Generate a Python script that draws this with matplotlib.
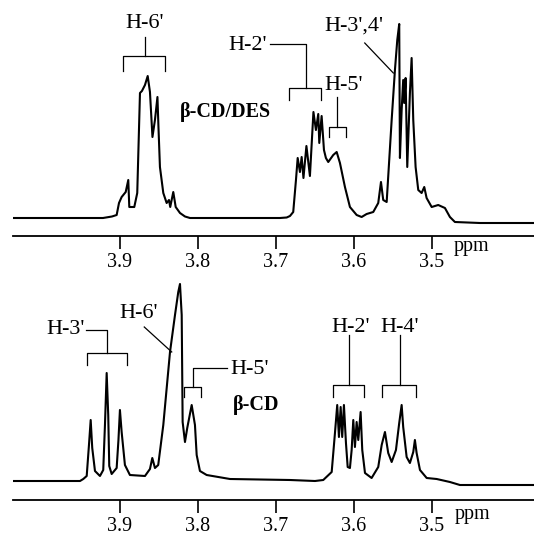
import matplotlib.pyplot as plt

plt.rcParams['font.family'] = ['Liberation Serif', 'DejaVu Serif']

# beta-CD/DES spectrum (ppm, intensity a.u.)
des_ppm = [4.037, 3.9216, 3.9101, 3.9041, 3.9011, 3.8977, 3.8925, 3.8892, 3.8879, 3.8815,
           3.8777, 3.8742, 3.8717, 3.8678, 3.8643, 3.8614, 3.8582, 3.855, 3.8518, 3.8505,
           3.8486, 3.8443, 3.84, 3.837, 3.8354, 3.8315, 3.8284, 3.8229, 3.8165, 3.8101,
           3.6947, 3.6861, 3.6819, 3.6777, 3.6742, 3.672, 3.6691, 3.6669, 3.6646, 3.6608,
           3.6563, 3.6518, 3.6486, 3.6456, 3.6443, 3.6413, 3.6383, 3.6358, 3.6328, 3.6264,
           3.622, 3.6178, 3.6114, 3.605, 3.5964, 3.59, 3.5836, 3.5751, 3.5687, 3.5652,
           3.5623, 3.5579, 3.5515, 3.5473, 3.5443, 3.5418, 3.5409, 3.5387, 3.5367, 3.5354,
           3.5336, 3.5315, 3.5281, 3.5259, 3.5238, 3.5208, 3.5174, 3.5131, 3.5097, 3.5067,
           3.5002, 3.4918, 3.4832, 3.4768, 3.4704, 3.4383, 3.3691]
des_int = [0, 0, 1.5, 3, 15, 21, 26, 38, 11, 11,
           25, 125, 127, 133, 142, 126, 81, 98, 121, 91,
           51, 25, 15, 18, 11, 26, 11, 5, 1.5, 0,
           0, 0.5, 2, 6, 38, 60, 46, 61, 40, 72,
           42, 106, 88, 104, 75, 102, 68, 60, 56, 63,
           66, 55, 31, 11, 3, 1, 4, 6, 15, 36,
           18, 16, 98, 148, 178, 194, 60, 108, 138, 115,
           140, 51, 125, 160, 98, 51, 28, 25, 31, 20,
           11, 13, 10, 1, -4, -5, -5]

# beta-CD spectrum (ppm, intensity a.u.)
cd_ppm = [4.037, 3.9511, 3.9469, 3.9425, 3.9396, 3.9374, 3.9354, 3.9319, 3.9255, 3.9213,
          3.9191, 3.9169, 3.9149, 3.9136, 3.9105, 3.9041, 3.9018, 3.8999, 3.8977, 3.8935,
          3.8871, 3.8678, 3.8614, 3.8584, 3.855, 3.8508, 3.8443, 3.8357, 3.8293, 3.8251,
          3.8229, 3.8207, 3.8195, 3.8165, 3.8136, 3.8079, 3.8037, 3.8015, 3.7973, 3.7887,
          3.7588, 3.6819, 3.6498, 3.6392, 3.6284, 3.6242, 3.6213, 3.6191, 3.6169, 3.6149,
          3.6127, 3.6101, 3.6079, 3.605, 3.6028, 3.6007, 3.5986, 3.5964, 3.5943, 3.5913,
          3.5892, 3.5857, 3.5772, 3.5687, 3.5643, 3.5601, 3.5559, 3.5515, 3.546, 3.5418,
          3.5387, 3.5367, 3.5323, 3.5281, 3.5238, 3.5217, 3.5195, 3.5152, 3.5066, 3.4938,
          3.4768, 3.464, 3.3691]
cd_int = [0, 0, 2, 5, 36, 61, 33, 10, 5, 11,
          56, 108, 66, 15, 7, 13, 41, 71, 49, 16,
          6, 5, 12, 23, 13, 16, 56, 129, 166, 189,
          197, 166, 59, 39, 53, 76, 56, 26, 10, 6,
          2, 1, 0, 1, 9, 48, 76, 44, 74, 44,
          76, 38, 14, 13, 31, 61, 34, 59, 41, 69,
          31, 8, 3, 14, 36, 49, 28, 19, 31, 58,
          76, 54, 24, 18, 29, 41, 28, 11, 3, 2,
          -1, -4, -4]

ticks = [3.9, 3.8, 3.7, 3.6, 3.5]
tick_labels = ['3.9', '3.8', '3.7', '3.6', '3.5']

# bracket labels: text, text x, text y, stem x, stem top, bracket lo, bracket hi, bracket y, tick end
des_brackets = [
    ("H-6'", 3.868, 194, 3.868, 181, 3.896, 3.842, 162, 147),
    ("H-5'", 3.613, 132, 3.621, 121, 3.632, 3.610, 91, 81),
]
cd_brackets = [
    ("H-2'", 3.604, 153, 3.6066, 146, 3.6264, 3.5867, 96, 84.5),
    ("H-4'", 3.5408, 153, 3.5408, 146, 3.5643, 3.5203, 96, 84.5),
]

fig = plt.figure(figsize=(5.34, 5.35), dpi=100)
ax1 = fig.add_axes([13 / 534, (535 - 236) / 535, 521 / 534, 236 / 535])
ax2 = fig.add_axes([13 / 534, (535 - 500) / 535, 521 / 534, 250 / 535])

lc = 'black'
fs = 16
for ax, x, y, lo in [(ax1, des_ppm, des_int, -18), (ax2, cd_ppm, cd_int, -19)]:
    ax.plot(x, y, color=lc, lw=1.5, solid_joinstyle='round')
    ax.set_xlim(4.037, 3.369)
    ax.set_ylim(lo, 218 if ax is ax1 else 231)
    for s in ['top', 'left', 'right']:
        ax.spines[s].set_visible(False)
    ax.spines['bottom'].set_linewidth(1.3)
    ax.set_yticks([])
    ax.set_xticks(ticks)
    ax.set_xticklabels(tick_labels)
    ax.tick_params(axis='x', direction='out', length=9, width=1.2, pad=3, labelsize=14.5)
    ax.patch.set_visible(False)


def bracket(ax, b):
    name, tx, ty, sx, stop, blo, bhi, by, bt = b
    ax.text(tx, ty, name, ha='center', va='center', fontsize=fs)
    ax.plot([sx, sx], [stop, by], color=lc, lw=0.9)
    ax.plot([blo, blo, bhi, bhi], [bt, by, by, bt], color=lc, lw=0.9)


for b in des_brackets:
    bracket(ax1, b)
for b in cd_brackets:
    bracket(ax2, b)

# top panel: H-2' with side leader, H-3',4' with slanted leader
ax1.text(3.736, 173, "H-2'", ha='center', va='center', fontsize=fs)
ax1.plot([3.708, 3.661, 3.661], [174, 174, 130], color=lc, lw=0.9)
ax1.plot([3.683, 3.683, 3.642, 3.642], [118, 130, 130, 118], color=lc, lw=0.9)
ax1.text(3.600, 192, "H-3',4'", ha='center', va='center', fontsize=fs)
ax1.plot([3.586, 3.5494], [175, 145], color=lc, lw=0.9)
ax1.text(3.765, 106, 'β-CD/DES', ha='center', va='center', fontsize=14.5, fontweight='bold')
ax1.text(3.4486, -29, 'ppm', ha='center', va='center', fontsize=14.5)

# bottom panel: H-3', H-6', H-5'
ax2.text(3.969, 152, "H-3'", ha='center', va='center', fontsize=fs)
ax2.plot([3.943, 3.916, 3.916], [151, 151, 128.5], color=lc, lw=0.9)
ax2.plot([3.9425, 3.9425, 3.8902, 3.8902], [116, 128.5, 128.5, 116], color=lc, lw=0.9)
ax2.text(3.8755, 167, "H-6'", ha='center', va='center', fontsize=fs)
ax2.plot([3.8687, 3.8335], [154, 129], color=lc, lw=0.9)
ax2.text(3.733, 112, "H-5'", ha='center', va='center', fontsize=fs)
ax2.plot([3.763, 3.8058, 3.8058], [112.7, 112.7, 93.7], color=lc, lw=0.9)
ax2.plot([3.8174, 3.8174, 3.796, 3.796], [83.7, 93.7, 93.7, 83.7], color=lc, lw=0.9)
ax2.text(3.7255, 76, 'β-CD', ha='center', va='center', fontsize=14.5, fontweight='bold')
ax2.text(3.4473, -34, 'ppm', ha='center', va='center', fontsize=14.5)

fig.savefig('out.png', dpi=100)
